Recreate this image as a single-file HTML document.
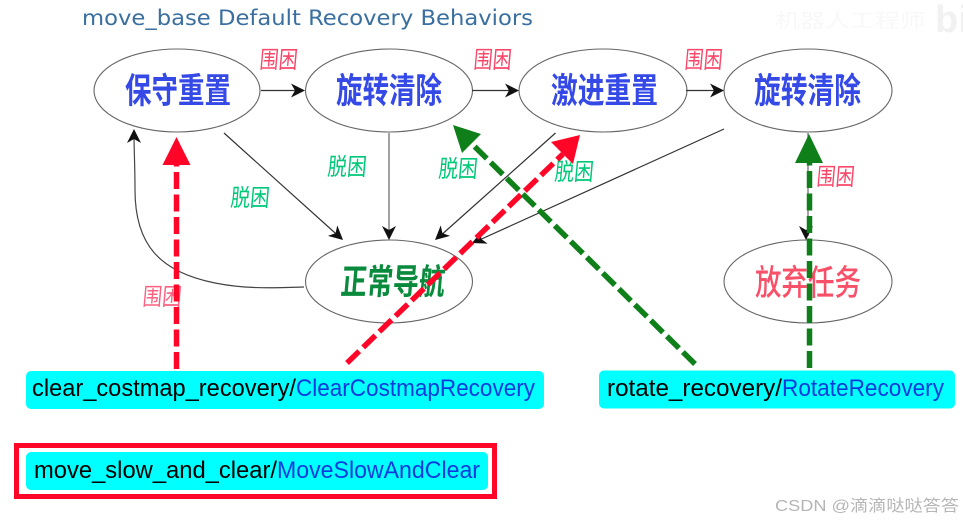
<!DOCTYPE html>
<html>
<head>
<meta charset="utf-8">
<style>
html,body{margin:0;padding:0;background:#fff;width:963px;height:523px;overflow:hidden}
svg{display:block}
.cjk{font-family:"Liberation Sans","Noto Sans CJK SC",sans-serif}
.n{font-size:35px;font-weight:700}
.l{font-size:24px;font-weight:400}
.m{font-family:"Liberation Sans","DejaVu Sans",sans-serif;font-size:24px}
</style>
</head>
<body>
<svg width="963" height="523" viewBox="0 0 963 523" xmlns="http://www.w3.org/2000/svg">
<defs>
<path id="h" d="M0,0 L-14,-7 L-10,0 L-14,7 Z" fill="#111"/>
</defs>
<text x="82" y="25" textLength="451" lengthAdjust="spacingAndGlyphs" font-family="DejaVu Sans, sans-serif" font-size="21.5" fill="#3a6f9f">move_base Default Recovery Behaviors</text>
<text class="cjk" x="775" y="27" textLength="150" lengthAdjust="spacingAndGlyphs" font-size="19" fill="#f8f8f8">机器人工程师</text>
<text x="935" y="32" font-family="Liberation Sans, sans-serif" font-weight="700" font-size="38" fill="#f1f1f1">bi</text>

<g fill="#fff" stroke="#666" stroke-width="1.1">
<ellipse cx="177" cy="90.5" rx="83" ry="41.5"/>
<ellipse cx="389" cy="90.5" rx="83.5" ry="41.5"/>
<ellipse cx="603" cy="90.5" rx="84" ry="41.5"/>
<ellipse cx="808" cy="90.5" rx="84" ry="41.5"/>
<ellipse cx="389" cy="281.5" rx="83.5" ry="41.5"/>
<ellipse cx="808" cy="281.5" rx="84" ry="41.5"/>
</g>

<g stroke="#333" stroke-width="1.2" fill="none">
<path d="M261,90.5H300"/>
<path d="M472,90.5H514"/>
<path d="M686,90.5H719"/>
<path d="M224,133L339,236.5"/>
<path d="M389,133V235" stroke="#666"/>
<path d="M555.5,133L439,237"/>
<path d="M724,129L476,241.5"/>
<path d="M304,287C270,288 245,289 215,283C160,272 135,245 135,190C135,165 134,150 134,134" stroke="#444"/>
<path d="M808,133V236" stroke="#666"/>
</g>
<use href="#h" transform="translate(305,90.5)"/>
<use href="#h" transform="translate(519,90.5)"/>
<use href="#h" transform="translate(724,90.5)"/>
<use href="#h" transform="translate(343,240) rotate(42)"/>
<use href="#h" transform="translate(389,240) rotate(90)"/>
<use href="#h" transform="translate(435,240) rotate(138)"/>
<use href="#h" transform="translate(472,243) rotate(155.5)"/>
<use href="#h" transform="translate(134,129) rotate(-90)"/>
<use href="#h" transform="translate(806,240) rotate(90)"/>

<g class="cjk n" fill="#3449e6">
<text x="125" y="103" textLength="106" lengthAdjust="spacingAndGlyphs">保守重置</text>
<text x="336" y="103" textLength="106" lengthAdjust="spacingAndGlyphs">旋转清除</text>
<text x="551" y="103" textLength="107" lengthAdjust="spacingAndGlyphs">激进重置</text>
<text x="754" y="103" textLength="107" lengthAdjust="spacingAndGlyphs">旋转清除</text>
</g>
<text class="cjk n" transform="translate(340,294) skewX(-5)" textLength="104" lengthAdjust="spacingAndGlyphs" fill="#0a8a3c">正常导航</text>
<text class="cjk n" x="755" y="295" textLength="106" lengthAdjust="spacingAndGlyphs" fill="#f9506a" style="font-weight:500">放弃任务</text>

<g class="cjk l" fill="#f9476a">
<text transform="translate(259,68) skewX(-5)" textLength="38" lengthAdjust="spacingAndGlyphs">围困</text>
<text transform="translate(473,68) skewX(-5)" textLength="38" lengthAdjust="spacingAndGlyphs">围困</text>
<text transform="translate(684,68) skewX(-5)" textLength="38" lengthAdjust="spacingAndGlyphs">围困</text>
<text transform="translate(816,185) skewX(-5)" textLength="38" lengthAdjust="spacingAndGlyphs">围困</text>
<text transform="translate(142,305) skewX(-5)" textLength="39" lengthAdjust="spacingAndGlyphs" opacity=".85">围困</text>
</g>
<g class="cjk l" fill="#00c878">
<text transform="translate(230,206) skewX(-5)" textLength="39" lengthAdjust="spacingAndGlyphs">脱困</text>
<text transform="translate(327,175) skewX(-5)" textLength="39" lengthAdjust="spacingAndGlyphs">脱困</text>
<text transform="translate(438,177) skewX(-5)" textLength="39" lengthAdjust="spacingAndGlyphs">脱困</text>
<text transform="translate(554,180) skewX(-5)" textLength="39" lengthAdjust="spacingAndGlyphs">脱困</text>
</g>

<g fill="none" stroke-width="5.5" stroke-dasharray="17 5.5">
<path d="M176.5,369V165" stroke="#ff0628"/>
<path d="M347,363L563,154" stroke="#ff0628"/>
<path d="M695,364L471,143" stroke="#0f7f1a"/>
<path d="M809.5,368V160" stroke="#0f7f1a"/>
</g>
<path d="M176.5,137L190.5,165H162.5Z" fill="#ff0628"/>
<path d="M580,135L551,142L573,164Z" fill="#ff0628"/>
<path d="M453,125L462,153L481,134Z" fill="#0f7f1a"/>
<path d="M809,134L823,163H795Z" fill="#0f7f1a"/>

<rect x="26" y="371" width="518" height="38" rx="5" fill="#00ffff"/>
<rect x="599" y="370.5" width="356" height="38" rx="5" fill="#00ffff"/>
<rect x="16.5" y="445.5" width="478" height="51" fill="none" stroke="#ff0628" stroke-width="5"/>
<rect x="26" y="452" width="462" height="38" rx="5" fill="#00ffff"/>

<text class="m" x="32" y="396" textLength="264" lengthAdjust="spacingAndGlyphs" fill="#000">clear_costmap_recovery/</text>
<text class="m" x="296" y="396" textLength="239" lengthAdjust="spacingAndGlyphs" fill="#0b3bdc">ClearCostmapRecovery</text>
<text class="m" x="607" y="396" textLength="175" lengthAdjust="spacingAndGlyphs" fill="#000">rotate_recovery/</text>
<text class="m" x="782" y="396" textLength="162" lengthAdjust="spacingAndGlyphs" fill="#0b3bdc">RotateRecovery</text>
<text class="m" x="34" y="478" textLength="243" lengthAdjust="spacingAndGlyphs" fill="#000">move_slow_and_clear/</text>
<text class="m" x="277" y="478" textLength="203" lengthAdjust="spacingAndGlyphs" fill="#0b3bdc">MoveSlowAndClear</text>

<text class="cjk" x="775" y="511" textLength="184" lengthAdjust="spacingAndGlyphs" font-size="16" fill="#b5b5b5">CSDN @滴滴哒哒答答</text>
</svg>
</body>
</html>
